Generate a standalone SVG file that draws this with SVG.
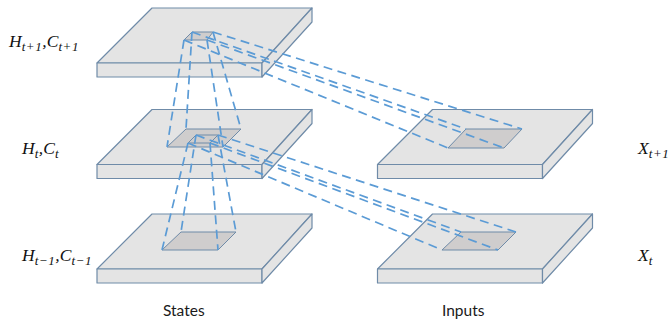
<svg xmlns="http://www.w3.org/2000/svg" width="668" height="322" viewBox="0 0 668 322">
<style>
.plate{fill:#e4e4e4;stroke:#6f8ba8;stroke-width:1.2;stroke-linejoin:round}
.win{fill:#cfcdcd;stroke:#6f8ba8;stroke-width:1}
.dash{fill:none;stroke:#5b9bd5;stroke-width:1.700;stroke-dasharray:9 5.500}
.m{font-family:"Liberation Serif",serif;font-style:italic;font-size:17.500px;fill:#111}
.s{font-size:13px;letter-spacing:.6px}
.cap{font-family:Lato,"Liberation Sans",sans-serif;font-size:15.500px;fill:#1a1a1a}
</style>
<defs>
<g id="plate">
<path class="plate" d="M0 0L55-55H215L165 0Z"/>
<path class="plate" d="M0 0H165V14H0Z"/>
<path class="plate" d="M165 0L215-55V-41L165 14Z"/>
</g>
</defs>
<g id="state-top"><use href="#plate" x="97" y="63"/><path class="win" d="M184 40L192 32H213L207 40Z"/></g>
<g id="state-mid"><use href="#plate" x="97" y="164.500"/><path class="win" d="M167 147L186 129H241L223 147Z"/><path class="win" d="M188 143L196 135H218L210 143Z"/></g>
<g id="state-bottom"><use href="#plate" x="97" y="269"/><path class="win" d="M162 250L181 232H236L218 250Z"/></g>
<g id="input-mid"><use href="#plate" x="377.500" y="164.500"/><path class="win" d="M448 148L466 129H522L504 148Z"/></g>
<g id="input-bottom"><use href="#plate" x="377.500" y="269"/><path class="win" d="M442 250L461 232H516L498 250Z"/></g>
<g id="connectors">
<path class="dash" d="M184 40L167 147"/>
<path class="dash" d="M192 32L186 129"/>
<path class="dash" d="M213 32L241 129"/>
<path class="dash" d="M207 40L223 147"/>
<path class="dash" d="M188 143L162 250"/>
<path class="dash" d="M196 135L181 232"/>
<path class="dash" d="M218 135L236 232"/>
<path class="dash" d="M210 143L218 250"/>
<path class="dash" d="M184 40L448 148"/>
<path class="dash" d="M192 32L466 129"/>
<path class="dash" d="M213 32L522 129"/>
<path class="dash" d="M207 40L504 148"/>
<path class="dash" d="M188 143L442 250"/>
<path class="dash" d="M196 135L461 232"/>
<path class="dash" d="M218 135L516 232"/>
<path class="dash" d="M210 143L498 250"/>
</g>
<g id="labels">
<text class="m" x="9" y="47">H<tspan class="s" dy="4">t+1</tspan><tspan dy="-4">,C</tspan><tspan class="s" dy="4">t+1</tspan></text>
<text class="m" x="22" y="154">H<tspan class="s" dy="4">t</tspan><tspan dy="-4">,C</tspan><tspan class="s" dy="4">t</tspan></text>
<text class="m" x="22" y="261">H<tspan class="s" dy="4">t−1</tspan><tspan dy="-4">,C</tspan><tspan class="s" dy="4">t−1</tspan></text>
<text class="m" x="638" y="154">X<tspan class="s" dy="4">t+1</tspan></text>
<text class="m" x="638" y="261">X<tspan class="s" dy="4">t</tspan></text>
<text class="cap" x="163" y="316">States</text>
<text class="cap" x="442" y="316">Inputs</text>
</g>
</svg>
